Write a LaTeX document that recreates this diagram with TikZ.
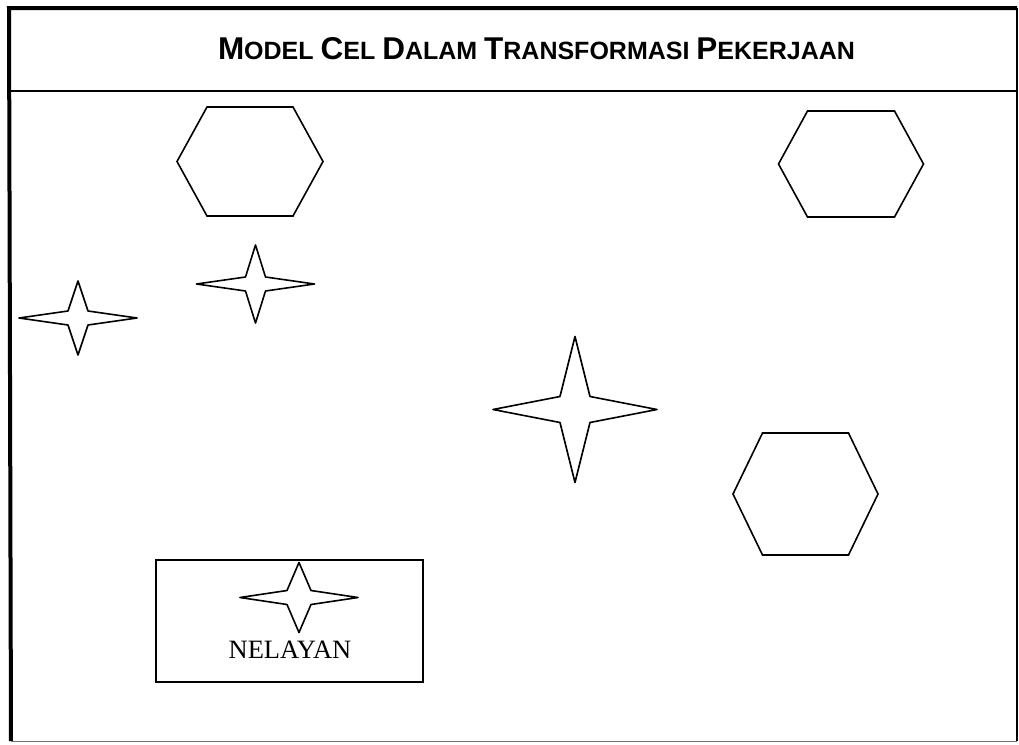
\documentclass[tikz,border=0pt]{standalone}
\usepackage{fontspec}
\setmainfont{Liberation Serif}
\newfontfamily\headfont{Liberation Sans}
\newcommand\capword[2]{{\fontsize{31.5}{31.5}\selectfont #1}{\fontsize{25}{25}\selectfont #2}}
\newcommand\hexcell[6]{% name, cx, cy, half width, half top edge, half height
  \draw[cell] (#2,#3) ++(-#4,0) -- ++(#4-#5,-#6) -- ++(2*#5,0) -- ++(#4-#5,#6)
    -- ++(#5-#4,#6) -- ++(-2*#5,0) -- cycle;
  \coordinate (#1) at (#2,#3);}
\newcommand\sparkle[7]{% name, cx, cy, half width, half height, inner dx, inner dy
  \coordinate (#1) at (#2,#3);
  \draw[cell,line join=round] (#2-#4,#3) -- (#2-#6,#3-#7) -- (#2,#3-#5) -- (#2+#6,#3-#7)
    -- (#2+#4,#3) -- (#2+#6,#3+#7) -- (#2,#3+#5) -- (#2-#6,#3+#7) -- cycle;}
\begin{document}
\begin{tikzpicture}[x=1pt,y=-1pt,
  cell/.style={draw=black,line width=1.6pt,line join=miter},
  frameline/.style={draw=black},
  legendbox/.style={draw=black,line width=1.5pt}]
  \useasboundingbox (0,0) rectangle (1019,744);
  % outer frame, heavier on the top and left
  \coordinate (tl) at (9,8);
  \coordinate (tr) at (1017,8);
  \coordinate (bl) at (11,741);
  \coordinate (br) at (1017,741);
  \draw[frameline,line width=4pt] (bl) -- (tl) -- (tr);
  \draw[frameline,line width=1.6pt] (tr) -- (br);
  \draw[frameline,line width=0.8pt,draw=black!55] (bl) -- (br);
  % title band
  \coordinate (hl) at (10,91);
  \coordinate (hr) at (1017,91);
  \draw[frameline,line width=1.8pt] (hl) -- (hr);
  \node[anchor=base,inner sep=0pt,font=\headfont\bfseries\fontsize{25}{25}\selectfont] (title) at (536.5,59)
    {\capword{M}{ODEL} \capword{C}{EL} \capword{D}{ALAM} \capword{T}{RANSFORMASI} \capword{P}{EKERJAAN}};
  % hexagonal cells
  \hexcell{hexA}{250}{161.5}{73}{43}{54.5}
  \hexcell{hexB}{851}{164}{72.5}{43.5}{53}
  \hexcell{hexC}{805.5}{494}{72.5}{43}{61}
  % four-pointed stars
  \sparkle{starA}{78}{318}{59}{37}{10}{7}
  \sparkle{starB}{255.5}{284}{59}{39}{10}{7}
  \sparkle{starC}{575}{409.5}{82}{73}{15}{13}
  % legend
  \node[legendbox,minimum width=267pt,minimum height=122pt,inner sep=0pt] (legend) at (289.5,621) {};
  \sparkle{starL}{299}{597.5}{59}{35}{12}{7}
  \node[anchor=base,inner sep=0pt,font=\fontsize{26.5}{26.5}\selectfont] (nelayan) at (290,658) {NELAYAN};
\end{tikzpicture}
\end{document}
